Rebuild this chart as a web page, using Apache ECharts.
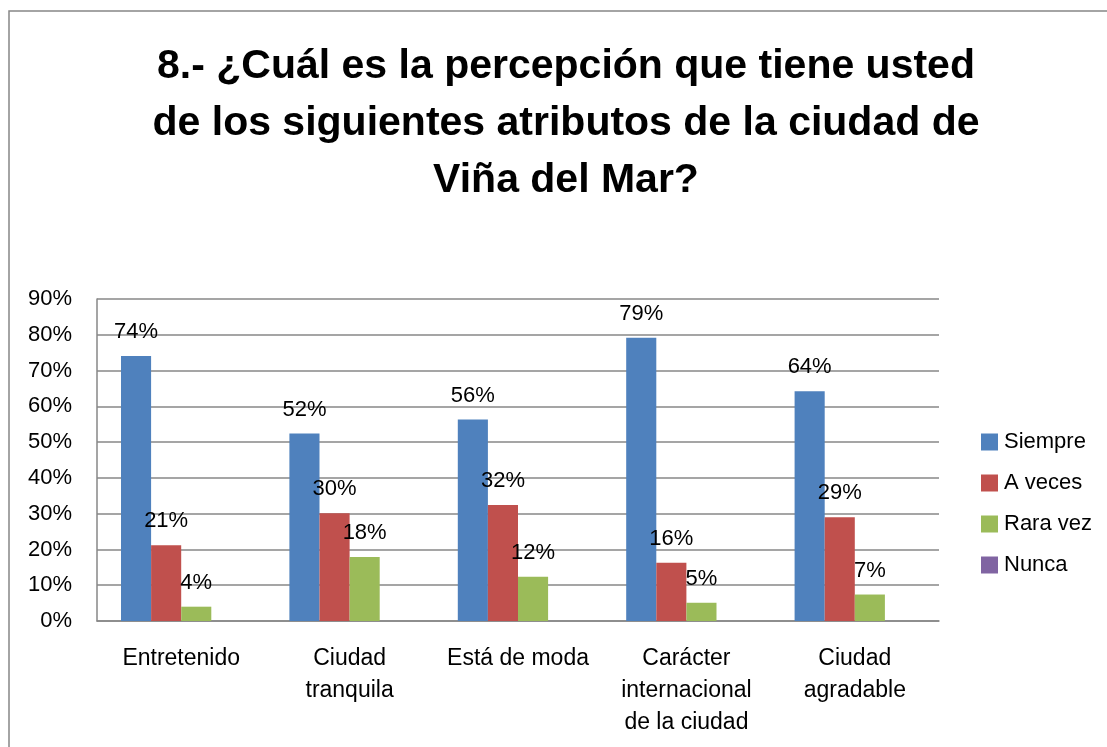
<!DOCTYPE html>
<html>
<head>
<meta charset="utf-8">
<script src="https://cdn.jsdelivr.net/npm/echarts@6/dist/echarts.min.js"></script>
<style>
html,body{margin:0;padding:0;background:#fff;}
#chart{width:1107px;height:747px;}
</style>
</head>
<body>
<div id="chart"></div>
<script>
const titleText = '8.- ¿Cuál es la percepción que tiene usted\nde los siguientes atributos de la ciudad de\nViña del Mar?';
const categories = ['Entretenido', 'Ciudad\ntranquila', 'Está de moda', 'Carácter\ninternacional\nde la ciudad', 'Ciudad\nagradable'];
const seriesNames = ['Siempre', 'A veces', 'Rara vez', 'Nunca'];
const siempre = [74.1, 52.4, 56.3, 79.2, 64.2];
const aVeces = [21.2, 30.1, 32.4, 16.3, 29.0];
const raraVez = [4.0, 17.9, 12.4, 5.1, 7.4];
const nunca = [0, 0, 0, 0, 0];
const yTicks = { min: 0, max: 90, interval: 10 };
const colors = ['#4F81BD', '#C0504D', '#9BBB59', '#8064A2'];

const FONT = "'Liberation Sans', Arial, sans-serif";
const chart = echarts.init(document.getElementById('chart'));
const seriesData = [siempre, aVeces, raraVez, nunca];

chart.setOption({
  animation: false,
  backgroundColor: '#ffffff',
  color: colors,
  title: {
    text: titleText,
    left: 561,
    top: 33,
    textAlign: 'center',
    textStyle: { fontFamily: FONT, fontSize: 41, fontWeight: 'bold', color: '#000', lineHeight: 57 }
  },
  graphic: [{
    type: 'rect', silent: true, z: -1,
    shape: { x: 9, y: 11, width: 1200, height: 900 },
    style: { fill: 'none', stroke: '#878787', lineWidth: 1.5 }
  }],
  legend: {
    orient: 'vertical',
    left: 976,
    top: 426,
    itemWidth: 17,
    itemHeight: 17,
    itemGap: 19,
    icon: 'rect',
    data: seriesNames,
    textStyle: { fontFamily: FONT, fontSize: 22, color: '#000', padding: [0, 0, 0, 1] }
  },
  grid: { left: 97, right: 168, top: 299, bottom: 126 },
  xAxis: {
    type: 'category',
    data: categories,
    axisLine: { lineStyle: { color: '#878787', width: 1.5 } },
    axisTick: { show: false },
    axisLabel: { fontFamily: FONT, fontSize: 23, color: '#000', lineHeight: 32, margin: 22, interval: 0 }
  },
  yAxis: {
    type: 'value',
    min: yTicks.min, max: yTicks.max, interval: yTicks.interval,
    axisLine: { show: true, lineStyle: { color: '#878787', width: 1.5 } },
    axisTick: { show: false },
    splitLine: { lineStyle: { color: '#878787', width: 1.5 } },
    axisLabel: { formatter: '{value}%', fontFamily: FONT, fontSize: 22, color: '#000', margin: 25 }
  },
  series: seriesNames.map((name, i) => ({
    name: name,
    type: 'bar',
    data: seriesData[i],
    barGap: '0%',
    barCategoryGap: '28.5%',
    itemStyle: { color: colors[i] },
    label: {
      show: i < 3,
      position: 'top',
      distance: 13,
      fontFamily: FONT,
      fontSize: 22,
      color: '#000',
      formatter: p => Math.round(p.value) + '%'
    }
  }))
});
</script>
</body>
</html>
